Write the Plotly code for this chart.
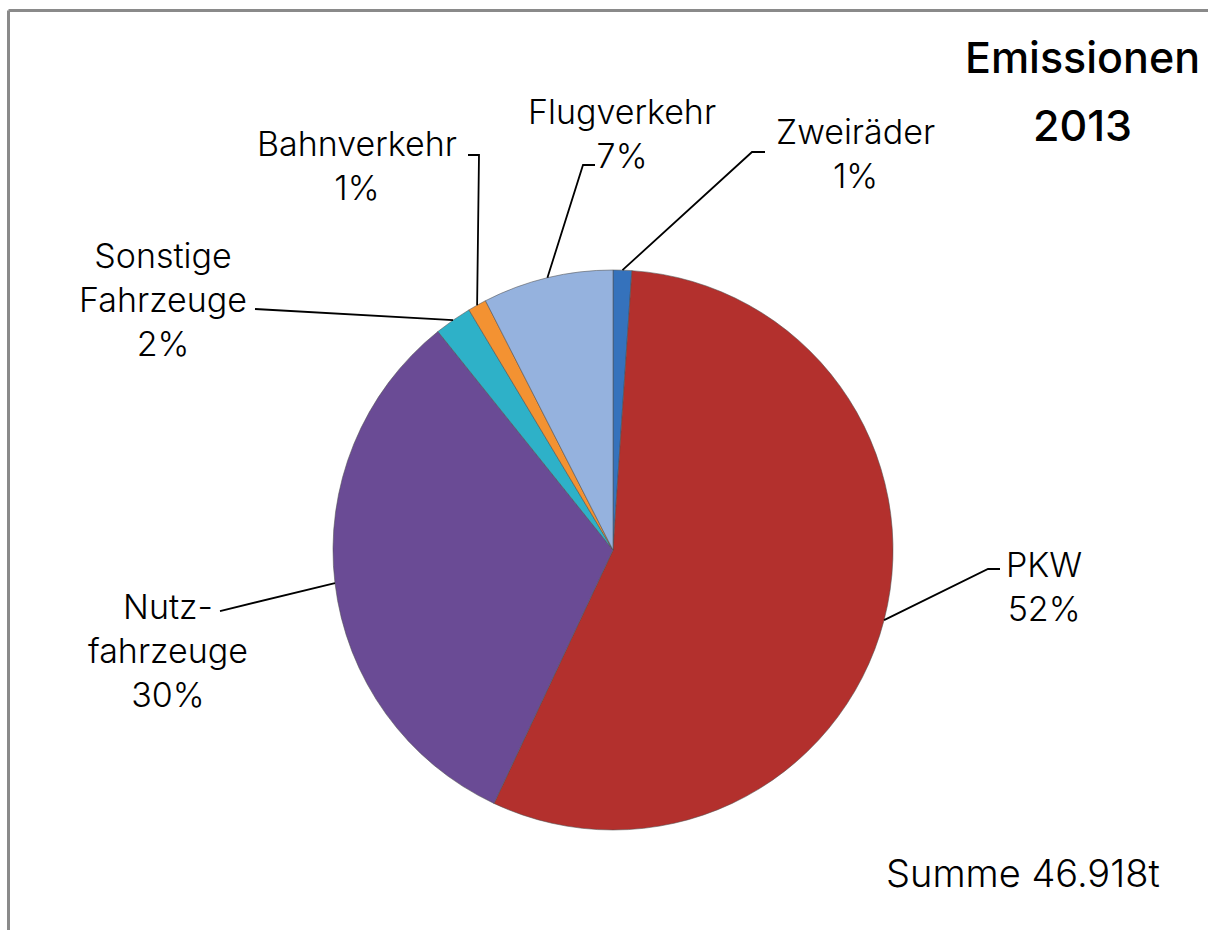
import math
import plotly.graph_objects as go

# Emission shares by transport mode (percent), clockwise from 12 o'clock
categories = ["Zweiräder", "PKW", "Nutzfahrzeuge", "Sonstige Fahrzeuge", "Bahnverkehr", "Flugverkehr"]
shares = [1, 52, 30, 2, 1, 7]
display_names = ["Zweiräder", "PKW", "Nutz-<br>fahrzeuge", "Sonstige<br>Fahrzeuge", "Bahnverkehr", "Flugverkehr"]
slice_colors = ["#3572bc", "#b3302d", "#6a4b95", "#2eb1c8", "#f39232", "#95b2de"]
title_lines = ["Emissionen", "2013"]
total_text = "Summe 46.918t"

W, H = 1208, 930
CX, CY, R = 613, 550, 280  # pie centre and radius in pixels
FONT = "Inter"


def px(x):
    return x / W


def py(y):
    return 1 - y / H


# leader-line elbows and label centres (pixels)
label_layout = {
    "Zweiräder": dict(path=[(752, 152), (765, 152)], text=(855, 153)),
    "PKW": dict(path=[(988, 569), (1000, 569)], text=(1044, 586)),
    "Nutzfahrzeuge": dict(path=[(220, 611)], text=(168, 650)),
    "Sonstige Fahrzeuge": dict(path=[(255, 309)], text=(163, 299)),
    "Bahnverkehr": dict(path=[(479, 155), (468, 155)], text=(357, 166)),
    "Flugverkehr": dict(path=[(583, 165), (595, 165)], text=(622, 133)),
}

fig = go.Figure()
fig.add_trace(go.Pie(
    labels=categories,
    values=shares,
    sort=False,
    direction="clockwise",
    rotation=0,
    textinfo="none",
    hoverinfo="skip",
    marker=dict(colors=slice_colors, line=dict(color="rgba(80,80,80,0.55)", width=1)),
    domain=dict(x=[px(CX - R), px(CX + R)], y=[py(CY + R), py(CY - R)]),
    showlegend=False,
))

shapes = []
annotations = []
total = sum(shares)
cum = 0.0
for cat, val, name in zip(categories, shares, display_names):
    mid = (cum + val / 2) / total * 2 * math.pi
    cum += val
    ax = CX + R * math.sin(mid)
    ay = CY - R * math.cos(mid)
    lay = label_layout[cat]
    pts = [(ax, ay)] + lay["path"]
    d = "M " + " L ".join(f"{px(x):.5f},{py(y):.5f}" for x, y in pts)
    shapes.append(dict(type="path", path=d, xref="paper", yref="paper",
                       line=dict(color="black", width=1.8)))
    tx, ty = lay["text"]
    annotations.append(dict(
        text=f"{name}<br>{val}%", x=px(tx), y=py(ty), xref="paper", yref="paper",
        xanchor="center", yanchor="middle", align="center", showarrow=False,
        font=dict(family=FONT, size=34, color="black", weight=300),
    ))

# title and total
for line, yc in zip(title_lines, (57, 125)):
    annotations.append(dict(text=line, x=px(1082), y=py(yc), xref="paper", yref="paper",
                            xanchor="center", yanchor="middle", showarrow=False,
                            font=dict(family=FONT, size=43, color="black", weight=500)))
annotations.append(dict(text=total_text, x=px(1023), y=py(873), xref="paper", yref="paper",
                        xanchor="center", yanchor="middle", showarrow=False,
                        font=dict(family=FONT, size=38, color="black", weight=300)))

# frame edges
shapes.append(dict(type="line", xref="paper", yref="paper", x0=px(8.5), y0=py(10.5), x1=px(1210), y1=py(10.5),
                   line=dict(color="#8a8a8a", width=3)))
shapes.append(dict(type="line", xref="paper", yref="paper", x0=px(8.5), y0=py(10.5), x1=px(8.5), y1=py(932),
                   line=dict(color="#8a8a8a", width=3)))

fig.update_layout(
    width=W, height=H,
    margin=dict(l=0, r=0, t=0, b=0),
    paper_bgcolor="white", plot_bgcolor="white",
    shapes=shapes, annotations=annotations,
)

fig.write_html("out.html")
